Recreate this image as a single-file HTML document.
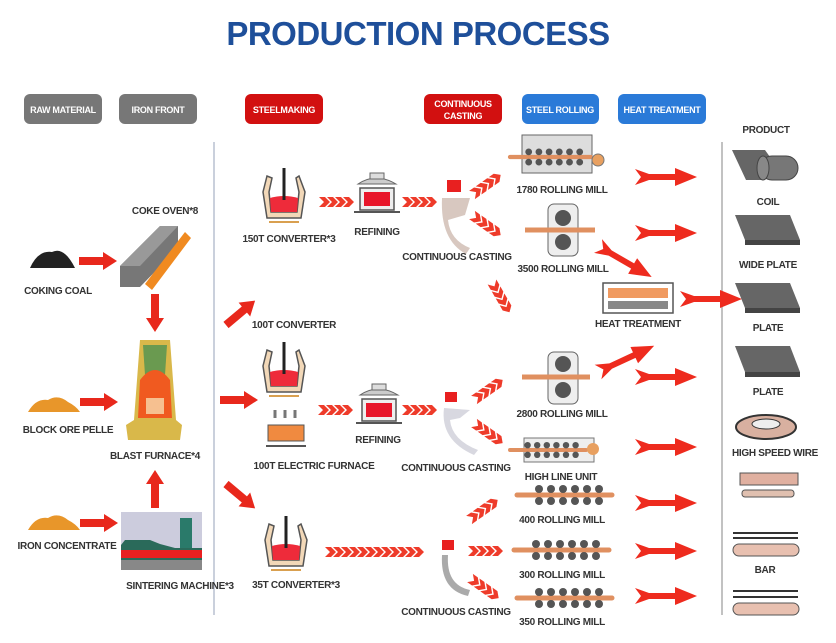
<!DOCTYPE html>
<html><head><meta charset="utf-8"><style>
html,body{margin:0;padding:0;background:#fff;}
svg{display:block;font-family:"Liberation Sans",sans-serif;}
.t{font-size:10px;font-weight:bold;fill:#333;text-anchor:middle;letter-spacing:-0.3px}
.p{font-size:9px;font-weight:bold;fill:#fff;text-anchor:middle;letter-spacing:-0.3px}
</style></head><body>
<svg width="836" height="643" viewBox="0 0 836 643" xmlns="http://www.w3.org/2000/svg">
<defs>
<path id="ar" d="M0,-4 L24,-4 L24,-9 L38,0 L24,9 L24,4 L0,4 Z" fill="#e8281c"/>
<path id="fa" d="M0,-8 L14,-3 L40,-3 L40,-9 L62,0 L40,9 L40,3 L14,3 L0,8 L6,0 Z" fill="#ee2b1e"/>
<g id="ch"><path d="M0,-5 L6,-5 L11,0 L6,5 L0,5 L5,0Z M8,-5 L14,-5 L19,0 L14,5 L8,5 L13,0Z M16,-5 L22,-5 L27,0 L22,5 L16,5 L21,0Z M24,-5 L30,-5 L35,0 L30,5 L24,5 L29,0Z" fill="#ee3b2a"/></g>
<g id="conv"><path d="M4,8 L0,24 L4,50 L38,50 L42,24 L36,8 L33,10 L36,24 L34,44 L8,44 L6,24 L9,10Z" fill="#f2d8b8" stroke="#555" stroke-width="1.5"/><path d="M7,30 Q21,26 35,30 L34,44 L8,44Z" fill="#ee2b3a"/><line x1="21" y1="0" x2="21" y2="32" stroke="#222" stroke-width="3"/><line x1="6" y1="54" x2="36" y2="54" stroke="#d9a050" stroke-width="2"/></g>
<g id="refi"><path d="M4,14 Q22,2 42,14Z" fill="#ccc" stroke="#666"/><rect x="16" y="3" width="14" height="6" fill="#ddd" stroke="#666"/><rect x="6" y="18" width="34" height="22" fill="#eee" stroke="#555" stroke-width="1.5"/><rect x="10" y="22" width="26" height="14" fill="#e8162a"/><line x1="0" y1="42" x2="46" y2="42" stroke="#555" stroke-width="2"/></g>
<g id="rod"><line x1="0" y1="0" x2="95" y2="0" stroke="#e09060" stroke-width="5" stroke-linecap="round"/><g fill="#555"><circle cx="22" cy="-6" r="4"/><circle cx="22" cy="6" r="4"/><circle cx="34" cy="-6" r="4"/><circle cx="34" cy="6" r="4"/><circle cx="46" cy="-6" r="4"/><circle cx="46" cy="6" r="4"/><circle cx="58" cy="-6" r="4"/><circle cx="58" cy="6" r="4"/><circle cx="70" cy="-6" r="4"/><circle cx="70" cy="6" r="4"/><circle cx="82" cy="-6" r="4"/><circle cx="82" cy="6" r="4"/></g></g>
<g id="pile"><path d="M0,18 Q8,4 20,6 Q30,0 40,8 Q48,12 52,18Z" fill="#e8962a"/></g>
</defs>

<text x="418" y="45" font-size="33" font-weight="bold" fill="#1e4f9a" text-anchor="middle" letter-spacing="-0.5">PRODUCTION PROCESS</text>

<rect x="24" y="94" width="78" height="30" rx="6" fill="#777"/><text class="p" x="63" y="113">RAW MATERIAL</text>
<rect x="119" y="94" width="78" height="30" rx="6" fill="#777"/><text class="p" x="158" y="113">IRON FRONT</text>
<rect x="245" y="94" width="78" height="30" rx="6" fill="#d21010"/><text class="p" x="284" y="113">STEELMAKING</text>
<rect x="424" y="94" width="78" height="30" rx="6" fill="#d21010"/><text class="p" x="463" y="107">CONTINUOUS</text><text class="p" x="463" y="119">CASTING</text>
<rect x="522" y="94" width="77" height="30" rx="6" fill="#2a7ad8"/><text class="p" x="560" y="113">STEEL ROLLING</text>
<rect x="618" y="94" width="88" height="30" rx="6" fill="#2a7ad8"/><text class="p" x="662" y="113">HEAT TREATMENT</text>

<line x1="214" y1="142" x2="214" y2="615" stroke="#b8c0d0" stroke-width="1.5"/>
<line x1="722" y1="142" x2="722" y2="615" stroke="#999" stroke-width="1.2"/>

<path d="M30,268 Q38,250 52,252 Q64,246 75,268Z" fill="#222"/>
<use href="#ar" transform="translate(79,261)"/>
<path d="M120,266 L160,226 L178,226 L178,248 L140,287 L120,287Z" fill="#777"/>
<path d="M120,266 L160,226 L178,226 L140,266Z" fill="#999"/>
<path d="M145,284 L185,232 L191,238 L152,290Z" fill="#f08a20"/>
<text class="t" x="165" y="214">COKE OVEN*8</text>
<text class="t" x="58" y="294">COKING COAL</text>
<use href="#ar" transform="translate(155,294) rotate(90)"/>
<path d="M140,340 L170,340 L176,420 L182,425 L180,440 L128,440 L126,425 L134,420Z" fill="#d9b84a"/>
<path d="M143,345 L167,345 L165,375 L145,375Z" fill="#6a9a50"/>
<path d="M140,380 Q155,360 170,380 L172,418 L138,418Z" fill="#f05a20"/>
<rect x="146" y="398" width="18" height="16" fill="#f6c090"/>
<use href="#pile" transform="translate(28,394)"/>
<use href="#ar" transform="translate(80,402)"/>
<text class="t" x="68" y="433">BLOCK ORE PELLE</text>
<text class="t" x="155" y="459">BLAST FURNACE*4</text>
<use href="#ar" transform="translate(155,508) rotate(-90)"/>
<use href="#pile" transform="translate(28,512)"/>
<use href="#ar" transform="translate(80,523)"/>
<rect x="121" y="512" width="81" height="58" fill="#ccd"/>
<rect x="180" y="518" width="12" height="36" fill="#2a7a6a"/>
<path d="M121,545 L125,540 L150,540 L160,544 L175,548 L202,548 L202,560 L121,560Z" fill="#2a6a5a"/>
<rect x="121" y="550" width="81" height="8" fill="#e82020"/>
<rect x="121" y="560" width="81" height="10" fill="#888"/>
<text class="t" x="67" y="549">IRON CONCENTRATE</text>
<text class="t" x="180" y="589">SINTERING MACHINE*3</text>

<use href="#conv" transform="translate(263,168)"/>
<text class="t" x="289" y="242">150T CONVERTER*3</text>
<use href="#ch" transform="translate(319,202)"/>
<use href="#refi" transform="translate(354,170)"/>
<text class="t" x="377" y="235">REFINING</text>
<use href="#ch" transform="translate(402,202)"/>
<use href="#ar" transform="translate(226,325) rotate(-40)"/>
<text class="t" x="294" y="328">100T CONVERTER</text>
<use href="#ar" transform="translate(220,400)"/>
<use href="#conv" transform="translate(263,342)"/>
<rect x="268" y="425" width="36" height="16" fill="#f08a40" stroke="#555"/>
<line x1="266" y1="446" x2="306" y2="446" stroke="#555" stroke-width="2"/>
<path d="M275,418 v-8 M285,418 v-8 M295,418 v-8" stroke="#777" stroke-width="3"/>
<text class="t" x="314" y="469">100T  ELECTRIC FURNACE</text>
<use href="#ch" transform="translate(318,410)"/>
<use href="#refi" transform="translate(356,381)"/>
<text class="t" x="378" y="443">REFINING</text>
<use href="#ch" transform="translate(402,410)"/>
<use href="#ar" transform="translate(226,484) rotate(40)"/>
<use href="#conv" transform="translate(265,516)"/>
<text class="t" x="296" y="588">35T CONVERTER*3</text>
<use href="#ch" transform="translate(325,552)"/><use href="#ch" transform="translate(357,552)"/><use href="#ch" transform="translate(389,552)"/>

<rect x="447" y="180" width="14" height="12" fill="#e82020"/>
<path d="M442,198 L470,198 L465,215 L448,220 Q450,240 470,248 L466,254 Q440,240 442,198Z" fill="#d8c8c0"/>
<text class="t" x="457" y="260">CONTINUOUS CASTING</text>
<use href="#ch" transform="translate(472,195) rotate(-35)"/>
<use href="#ch" transform="translate(472,215) rotate(35)"/>
<use href="#ch" transform="translate(492,282) rotate(60)"/>
<rect x="445" y="392" width="12" height="10" fill="#e82020"/>
<path d="M444,408 L470,410 L460,418 L450,420 Q452,440 478,450 L474,455 Q440,440 444,408Z" fill="#d8d8e0"/>
<text class="t" x="456" y="471">CONTINUOUS CASTING</text>
<use href="#ch" transform="translate(474,400) rotate(-35)"/>
<use href="#ch" transform="translate(474,423) rotate(35)"/>
<use href="#ch" transform="translate(469,520) rotate(-35)"/>
<rect x="442" y="540" width="12" height="10" fill="#e82020"/>
<path d="M448,555 Q446,585 470,590 L468,596 Q440,590 442,555Z" fill="#aaa"/>
<use href="#ch" transform="translate(468,551)"/>
<use href="#ch" transform="translate(470,578) rotate(35)"/>
<text class="t" x="456" y="615">CONTINUOUS CASTING</text>

<rect x="522" y="135" width="70" height="38" fill="#ddd" stroke="#666"/>
<use href="#rod" transform="translate(510,157) scale(0.85)"/>
<circle cx="598" cy="160" r="6" fill="#e8a060" stroke="#777"/>
<text class="t" x="562" y="193">1780 ROLLING MILL</text>
<rect x="548" y="204" width="30" height="52" rx="6" fill="#eee" stroke="#666"/>
<circle cx="563" cy="218" r="8" fill="#555"/><circle cx="563" cy="242" r="8" fill="#555"/>
<line x1="525" y1="230" x2="595" y2="230" stroke="#e09060" stroke-width="5"/>
<text class="t" x="563" y="272">3500 ROLLING MILL</text>
<use href="#fa" transform="translate(635,177)"/>
<use href="#fa" transform="translate(635,233)"/>
<use href="#fa" transform="translate(598,246) rotate(30)"/>
<rect x="603" y="283" width="70" height="30" fill="#fff" stroke="#555" stroke-width="1.5"/>
<rect x="608" y="288" width="60" height="10" fill="#f09a60"/>
<rect x="608" y="301" width="60" height="8" fill="#888"/>
<text class="t" x="638" y="327">HEAT TREATMENT</text>
<use href="#fa" transform="translate(680,299)"/>
<rect x="548" y="352" width="30" height="52" rx="6" fill="#eee" stroke="#666"/>
<circle cx="563" cy="364" r="8" fill="#555"/><circle cx="563" cy="390" r="8" fill="#555"/>
<line x1="522" y1="377" x2="590" y2="377" stroke="#e09060" stroke-width="5"/>
<text class="t" x="562" y="417">2800 ROLLING MILL</text>
<use href="#fa" transform="translate(598,372) rotate(-25)"/>
<use href="#fa" transform="translate(635,377)"/>
<rect x="524" y="438" width="70" height="24" fill="#eee" stroke="#777"/>
<use href="#rod" transform="translate(510,450) scale(0.8)"/>
<circle cx="593" cy="449" r="6" fill="#e8a060"/>
<text class="t" x="561" y="480">HIGH LINE UNIT</text>
<use href="#fa" transform="translate(635,447)"/>
<use href="#rod" transform="translate(517,495)"/>
<text class="t" x="562" y="523">400 ROLLING MILL</text>
<use href="#fa" transform="translate(635,503)"/>
<use href="#rod" transform="translate(514,550)"/>
<text class="t" x="562" y="578">300 ROLLING MILL</text>
<use href="#fa" transform="translate(635,551)"/>
<use href="#rod" transform="translate(517,598)"/>
<text class="t" x="562" y="625">350 ROLLING MILL</text>
<use href="#fa" transform="translate(635,596)"/>

<text class="t" x="766" y="133">PRODUCT</text>
<path d="M732,150 L765,150 L770,157 L765,180 L746,180Z" fill="#666"/>
<rect x="760" y="156" width="38" height="24" rx="12" fill="#777" stroke="#444"/>
<ellipse cx="763" cy="168" rx="6" ry="12" fill="#888" stroke="#444"/>
<text class="t" x="768" y="205">COIL</text>
<path d="M735,215 L790,215 L800,240 L745,240Z" fill="#666"/><path d="M745,240 L800,240 L800,245 L745,245Z" fill="#444"/>
<text class="t" x="768" y="268">WIDE PLATE</text>
<path d="M735,283 L790,283 L800,308 L745,308Z" fill="#666"/><path d="M745,308 L800,308 L800,313 L745,313Z" fill="#444"/>
<text class="t" x="768" y="331">PLATE</text>
<path d="M735,346 L790,346 L800,372 L745,372Z" fill="#666"/><path d="M745,372 L800,372 L800,377 L745,377Z" fill="#444"/>
<text class="t" x="768" y="395">PLATE</text>
<ellipse cx="766" cy="427" rx="30" ry="12" fill="#d8b0a0" stroke="#333" stroke-width="2"/>
<ellipse cx="766" cy="424" rx="14" ry="5" fill="#eee" stroke="#333"/>
<text class="t" x="775" y="456">HIGH SPEED WIRE</text>
<rect x="740" y="473" width="58" height="12" fill="#e0b0a0" stroke="#555"/>
<rect x="742" y="490" width="52" height="7" rx="3" fill="#e0c0b0" stroke="#555"/>
<line x1="733" y1="533" x2="798" y2="533" stroke="#333" stroke-width="2"/>
<line x1="733" y1="538" x2="798" y2="538" stroke="#333" stroke-width="2"/>
<rect x="733" y="544" width="66" height="12" rx="6" fill="#e8c0b0" stroke="#555"/>
<text class="t" x="765" y="573">BAR</text>
<line x1="733" y1="591" x2="798" y2="591" stroke="#333" stroke-width="2"/>
<line x1="733" y1="597" x2="798" y2="597" stroke="#333" stroke-width="2"/>
<rect x="733" y="603" width="66" height="12" rx="6" fill="#e8c0b0" stroke="#555"/>
</svg>
</body></html>
